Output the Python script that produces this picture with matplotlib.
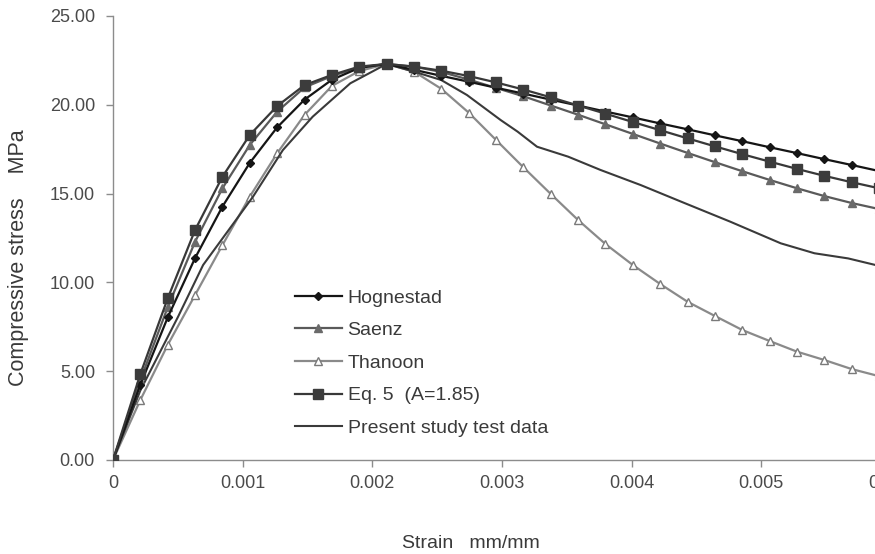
import numpy as np
import matplotlib
matplotlib.use('Agg')
import matplotlib.pyplot as plt
from matplotlib.ticker import FuncFormatter

plt.rcParams['font.family'] = ['Liberation Sans', 'DejaVu Sans']

# strain points of the model curves (step ~0.1 of peak strain)
strain = [0.0, 0.000211, 0.000422, 0.000633, 0.000844, 0.001055, 0.001266,
          0.001477, 0.001688, 0.001899, 0.00211, 0.002321, 0.002532, 0.002743,
          0.002954, 0.003165, 0.003376, 0.003587, 0.003798, 0.004009, 0.00422,
          0.004431, 0.004642, 0.004853, 0.005064, 0.005275, 0.005486, 0.005697,
          0.005908]

hognestad = [0.0, 4.24, 8.03, 11.37, 14.27, 16.73, 18.73, 20.29, 21.41, 22.08,
             22.30, 21.97, 21.63, 21.30, 20.96, 20.63, 20.29, 19.96, 19.62,
             19.29, 18.95, 18.62, 18.28, 17.95, 17.61, 17.28, 16.94, 16.61, 16.27]

saenz = [0.0, 4.50, 8.60, 12.29, 15.30, 17.74, 19.61, 20.98, 21.62, 22.10,
         22.30, 22.15, 21.85, 21.42, 20.95, 20.48, 19.96, 19.44, 18.90, 18.36,
         17.82, 17.29, 16.77, 16.26, 15.77, 15.30, 14.86, 14.47, 14.13]

thanoon = [0.0, 3.38, 6.48, 9.29, 12.10, 14.83, 17.27, 19.43, 21.06, 21.90,
           22.30, 21.87, 20.90, 19.56, 18.02, 16.48, 14.98, 13.51, 12.16, 10.98,
           9.91, 8.91, 8.11, 7.32, 6.70, 6.10, 5.63, 5.12, 4.72]

eq5 = [0.0, 4.84, 9.10, 12.95, 15.95, 18.30, 19.93, 21.11, 21.68, 22.15,
       22.30, 22.15, 21.92, 21.62, 21.26, 20.86, 20.42, 19.96, 19.50, 19.03,
       18.57, 18.11, 17.66, 17.22, 16.80, 16.39, 16.00, 15.64, 15.30]

# test data (own strain points)
test_strain = [0.0, 0.00021, 0.000502, 0.000695, 0.00108, 0.00131, 0.00154,
               0.00183, 0.00211, 0.00232, 0.00253, 0.00273, 0.00299, 0.00312,
               0.00327, 0.00351, 0.00376, 0.00407, 0.00438, 0.00476, 0.00515,
               0.00541, 0.00567, 0.00588, 0.0060]
test_stress = [0.0, 3.90, 8.07, 10.98, 14.83, 17.45, 19.33, 21.21, 22.30, 21.87,
               21.40, 20.55, 19.14, 18.49, 17.64, 17.08, 16.33, 15.48, 14.55,
               13.42, 12.20, 11.64, 11.35, 10.98, 10.85]

yticks = [0, 5, 10, 15, 20, 25]
xticks = [0, 0.001, 0.002, 0.003, 0.004, 0.005, 0.006]

fig = plt.figure(figsize=(8.75, 5.54), dpi=100)
ax = fig.add_axes([113 / 875, 94 / 554, 778 / 875, 444 / 554])

ax.plot(strain, thanoon, color='#8a8a8a', lw=1.6, marker='^', ms=6,
        mfc='white', mec='#7a7a7a', mew=1.0, label='Thanoon', zorder=2)
ax.plot(test_strain, test_stress, color='#3a3a3a', lw=1.5,
        label='Present study test data', zorder=3)
ax.plot(strain, saenz, color='#5a5a5a', lw=1.6, marker='^', ms=6,
        mfc='#6a6a6a', mec='#6a6a6a', label='Saenz', zorder=4)
ax.plot(strain, hognestad, color='#151515', lw=1.6, marker='D', ms=4,
        mfc='#151515', mec='#151515', label='Hognestad', zorder=5)
ax.plot(strain, eq5, color='#383838', lw=1.6, marker='s', ms=6.5,
        mfc='#3c3c3c', mec='#3c3c3c', label='Eq. 5  (A=1.85)', zorder=6)

ax.set_xlim(0, 0.006)
ax.set_ylim(0, 25)
ax.set_yticks(yticks)
ax.set_xticks(xticks)
ax.yaxis.set_major_formatter(FuncFormatter(lambda v, p: '%.2f' % v))
ax.xaxis.set_major_formatter(FuncFormatter(lambda v, p: '0' if v == 0 else '%.3f' % v))

for s in ['top', 'right']:
    ax.spines[s].set_visible(False)
for s in ['left', 'bottom']:
    ax.spines[s].set_color('#8c8c8c')
    ax.spines[s].set_linewidth(1.0)
ax.tick_params(axis='both', colors='#8c8c8c', labelcolor='#4a4a4a',
               labelsize=13, length=5, width=1.0)
ax.tick_params(axis='y', pad=8)
ax.tick_params(axis='x', pad=6)

handles, labels = ax.get_legend_handles_labels()
order = ['Hognestad', 'Saenz', 'Thanoon', 'Eq. 5  (A=1.85)', 'Present study test data']
hmap = dict(zip(labels, handles))
leg = ax.legend([hmap[l] for l in order], order, loc='upper left',
                bbox_to_anchor=(295 / 875, 1 - 289 / 554), bbox_transform=fig.transFigure,
                frameon=False, fontsize=14, handlelength=2.4, handletextpad=0.3,
                labelspacing=0.77, borderpad=0, borderaxespad=0)
for t in leg.get_texts():
    t.set_color('#3a3a3a')

fig.text(19 / 875, 1 - 258 / 554, 'Compressive stress    MPa', rotation=90,
         ha='center', va='center', fontsize=15.5, color='#3a3a3a')
fig.text(471 / 875, 1 - 543 / 554, 'Strain   mm/mm', ha='center', va='center',
         fontsize=14, color='#3a3a3a')

fig.savefig('out.png', dpi=100)
